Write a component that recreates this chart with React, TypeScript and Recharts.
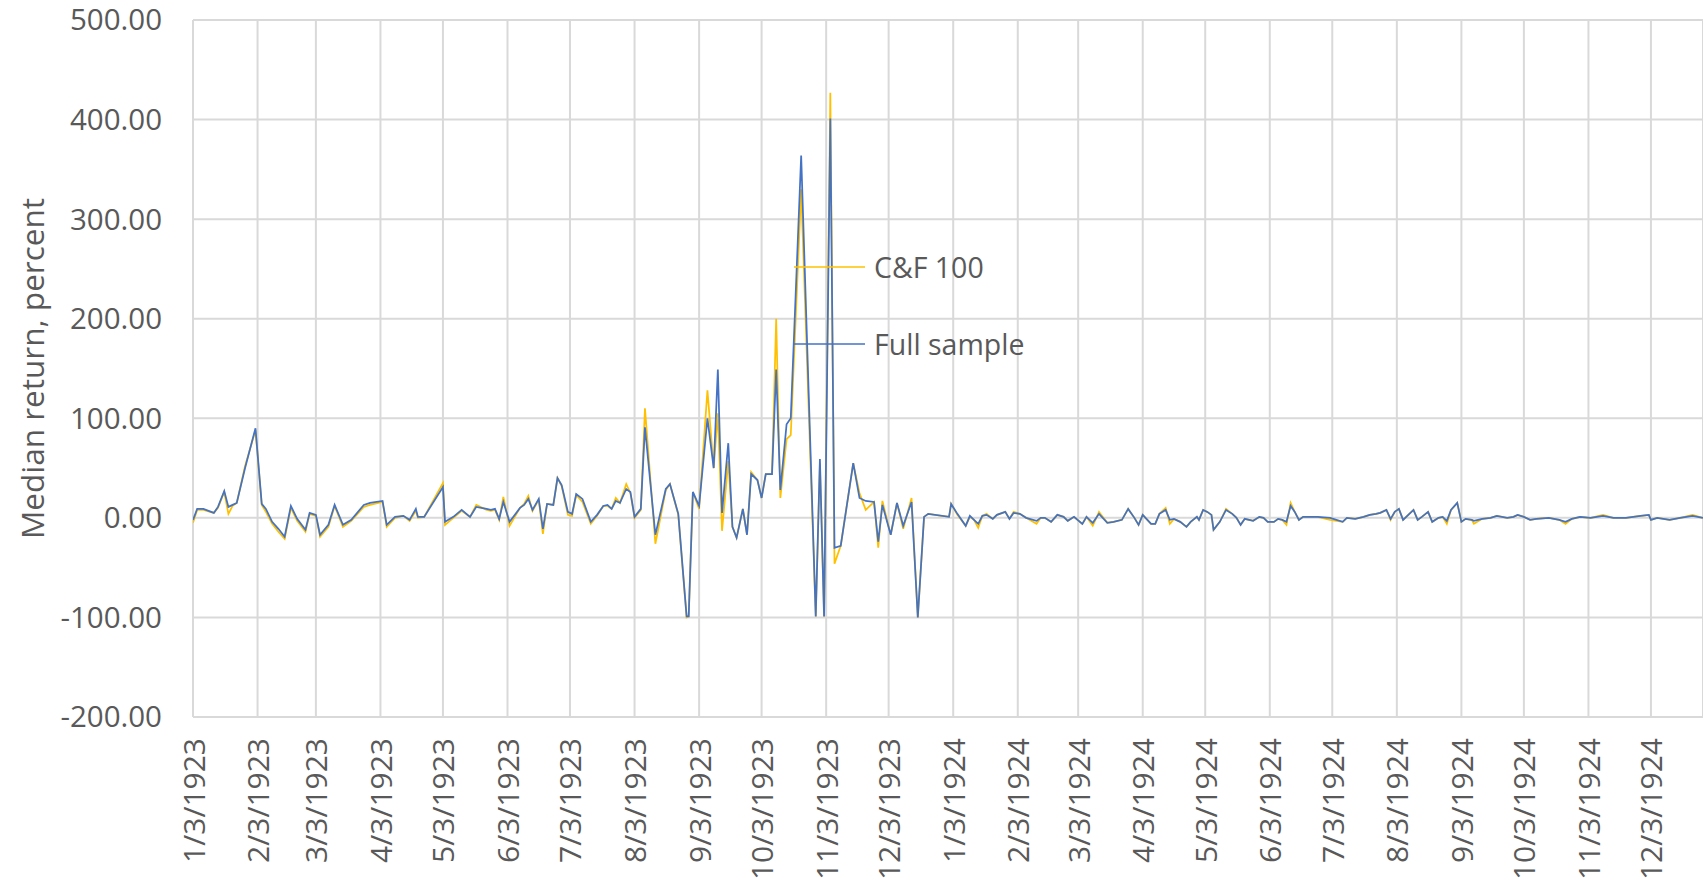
import { LineChart, Line, XAxis, YAxis, CartesianGrid, Legend } from 'recharts';

const dates = [
  '1/3/1923', '1/5/1923', '1/8/1923', '1/13/1923', '1/15/1923', '1/18/1923', '1/20/1923', '1/22/1923', '1/24/1923', '1/28/1923',
  '2/2/1923', '2/5/1923', '2/7/1923', '2/10/1923', '2/13/1923', '2/16/1923', '2/19/1923', '2/22/1923', '2/26/1923', '2/28/1923',
  '3/3/1923', '3/5/1923', '3/9/1923', '3/12/1923', '3/16/1923', '3/20/1923', '3/26/1923', '3/29/1923',
  '4/4/1923', '4/6/1923', '4/10/1923', '4/14/1923', '4/17/1923', '4/20/1923', '4/21/1923', '4/24/1923',
  '5/3/1923', '5/4/1923', '5/8/1923', '5/12/1923', '5/16/1923', '5/19/1923', '5/24/1923', '5/26/1923', '5/28/1923', '5/30/1923',
  '6/1/1923', '6/4/1923', '6/9/1923', '6/11/1923', '6/13/1923', '6/15/1923', '6/18/1923', '6/20/1923', '6/22/1923', '6/25/1923', '6/27/1923', '6/29/1923',
  '7/2/1923', '7/4/1923', '7/6/1923', '7/9/1923', '7/13/1923', '7/16/1923', '7/19/1923', '7/21/1923', '7/23/1923', '7/25/1923', '7/27/1923', '7/30/1923',
  '8/1/1923', '8/3/1923', '8/6/1923', '8/8/1923', '8/13/1923', '8/18/1923', '8/20/1923', '8/24/1923', '8/28/1923', '8/29/1923', '8/31/1923',
  '9/3/1923', '9/7/1923', '9/10/1923', '9/12/1923', '9/14/1923', '9/17/1923', '9/19/1923', '9/21/1923', '9/24/1923', '9/26/1923', '9/28/1923',
  '10/1/1923', '10/3/1923', '10/5/1923', '10/8/1923', '10/10/1923', '10/12/1923', '10/15/1923', '10/17/1923', '10/22/1923', '10/29/1923', '10/31/1923',
  '11/2/1923', '11/5/1923', '11/7/1923', '11/10/1923', '11/16/1923', '11/19/1923', '11/22/1923', '11/26/1923', '11/28/1923', '11/30/1923',
  '12/4/1923', '12/7/1923', '12/10/1923', '12/14/1923', '12/17/1923', '12/20/1923', '12/22/1923',
  '1/1/1924', '1/2/1924', '1/5/1924', '1/9/1924', '1/11/1924', '1/13/1924', '1/15/1924', '1/17/1924', '1/19/1924', '1/22/1924', '1/24/1924', '1/28/1924', '1/30/1924',
  '2/1/1924', '2/4/1924', '2/7/1924', '2/12/1924', '2/14/1924', '2/16/1924', '2/19/1924', '2/22/1924', '2/25/1924', '2/27/1924',
  '3/1/1924', '3/5/1924', '3/7/1924', '3/10/1924', '3/13/1924', '3/17/1924', '3/20/1924', '3/24/1924', '3/27/1924', '3/30/1924',
  '4/1/1924', '4/3/1924', '4/7/1924', '4/9/1924', '4/11/1924', '4/14/1924', '4/16/1924', '4/18/1924', '4/21/1924', '4/24/1924', '4/26/1924', '4/29/1924', '4/30/1924',
  '5/2/1924', '5/4/1924', '5/6/1924', '5/7/1924', '5/10/1924', '5/13/1924', '5/16/1924', '5/18/1924', '5/20/1924', '5/22/1924', '5/26/1924', '5/29/1924', '5/31/1924',
  '6/2/1924', '6/5/1924', '6/7/1924', '6/9/1924', '6/11/1924', '6/13/1924', '6/15/1924', '6/17/1924', '6/19/1924', '6/26/1924',
  '7/2/1924', '7/8/1924', '7/10/1924', '7/14/1924', '7/18/1924', '7/21/1924', '7/24/1924', '7/26/1924', '7/29/1924', '7/31/1924',
  '8/2/1924', '8/4/1924', '8/6/1924', '8/9/1924', '8/11/1924', '8/13/1924', '8/15/1924', '8/18/1924', '8/20/1924', '8/23/1924', '8/25/1924', '8/27/1924', '8/29/1924',
  '9/1/1924', '9/3/1924', '9/5/1924', '9/8/1924', '9/9/1924', '9/13/1924', '9/17/1924', '9/20/1924', '9/25/1924', '9/28/1924', '9/30/1924',
  '10/3/1924', '10/6/1924', '10/9/1924', '10/15/1924', '10/20/1924', '10/23/1924', '10/26/1924', '10/30/1924',
  '11/4/1924', '11/10/1924', '11/15/1924', '11/21/1924', '11/28/1924',
  '12/2/1924', '12/3/1924', '12/6/1924', '12/12/1924', '12/17/1924', '12/23/1924', '12/28/1924',
];

const cf100 = [
  -5, 8, 8, 5, 10, 26, 4, 12, 15, 52,
  88, 13, 6, -6, -14, -21, 10, -3, -14, 4,
  2, -19, -9, 12, -9, -3, 11, 13,
  16, -9, 0, 2, -3, 7, 0, 1,
  35, -7, 0, 7, 1, 13, 8, 7, 8, -2,
  21, -8, 10, 14, 22, 7, 18, -16, 14, 13, 40, 32,
  3, 2, 23, 16, -6, 2, 12, 12, 9, 20, 15, 34,
  25, 0, 8, 110, -26, 28, 34, 3, -100, -99, 26,
  9, 128, 50, 105, -13, 57, -9, -20, 9, -17, 46,
  38, 20, 44, 44, 200, 20, 79, 83, 330, -99, 55,
  -99, 427, -46, -28, 55, 25, 8, 16, -30, 17,
  -17, 15, -11, 20, -100, 1, 4,
  1, 14, 3, -8, 1, -2, -10, 2, 4, -1, 3, 6, -1,
  6, 4, 0, -6, 0, 0, -4, 3, 1, -3,
  1, -6, 1, -8, 6, -5, -4, -2, 9, 0,
  -7, 3, -6, -6, 4, 10, -6, -1, -4, -9, -4, 1, -2,
  8, 6, 3, -12, -4, 9, 4, 0, -7, -1, -3, 1, 0,
  -4, -4, -1, -2, -7, 15, 6, -2, 1, 1,
  -2, -4, 0, -1, 1, 3, 4, 5, 8, -2,
  6, 9, -2, 4, 8, -2, 1, 6, -4, 0, 1, -6, 8,
  15, -4, -1, -2, -6, -1, 0, 2, 0, 1, 3,
  1, -2, -1, 0, -2, -6, -1, 1,
  0, 3, 0, 0, 2,
  3, -2, 0, -2, 0, 3, 0,
];

const fullSample = [
  -2, 9, 9, 5, 11, 27, 11, 13, 15, 50,
  90, 14, 9, -4, -11, -19, 12, -1, -12, 5,
  3, -17, -7, 13, -7, -2, 13, 15,
  17, -7, 1, 2, -2, 9, 1, 1,
  31, -4, 1, 8, 1, 11, 9, 8, 9, -1,
  16, -4, 10, 13, 19, 8, 19, -11, 14, 13, 40, 33,
  6, 4, 24, 19, -4, 3, 12, 13, 9, 17, 15, 29,
  26, 1, 9, 91, -17, 29, 34, 4, -99, -99, 26,
  12, 100, 50, 149, 5, 75, -9, -20, 9, -17, 44,
  38, 20, 44, 44, 149, 28, 94, 100, 364, -99, 59,
  -99, 401, -30, -28, 55, 20, 17, 16, -24, 13,
  -17, 15, -8, 16, -100, 1, 4,
  1, 14, 4, -8, 2, -2, -6, 2, 3, -1, 3, 6, -1,
  5, 4, 0, -3, 0, 0, -4, 3, 1, -3,
  1, -6, 1, -5, 4, -5, -4, -2, 9, 0,
  -7, 3, -6, -6, 4, 8, -2, -1, -4, -9, -4, 1, -2,
  8, 6, 3, -12, -4, 8, 4, 0, -7, -1, -3, 1, 0,
  -4, -4, -1, -2, -4, 12, 6, -2, 1, 1,
  0, -4, 0, -1, 1, 3, 4, 5, 8, -1,
  6, 9, -2, 4, 8, -2, 1, 6, -4, 0, 1, -3, 8,
  15, -4, -1, -2, -3, -1, 0, 2, 0, 1, 3,
  1, -2, -1, 0, -2, -4, -1, 1,
  0, 2, 0, 0, 2,
  3, -2, 0, -2, 0, 2, 0,
];

const tickLabels = [
  '1/3/1923', '2/3/1923', '3/3/1923', '4/3/1923', '5/3/1923', '6/3/1923',
  '7/3/1923', '8/3/1923', '9/3/1923', '10/3/1923', '11/3/1923', '12/3/1923',
  '1/3/1924', '2/3/1924', '3/3/1924', '4/3/1924', '5/3/1924', '6/3/1924',
  '7/3/1924', '8/3/1924', '9/3/1924', '10/3/1924', '11/3/1924', '12/3/1924',
];

const yTicks = [-200, -100, 0, 100, 200, 300, 400, 500];

const FONT = '"Open Sans", "Noto Sans", sans-serif';
const TEXT = '#595959';
const GOLD = '#FFC000';
const BLUE = '#4472C4';

const base = Date.UTC(1923, 0, 3);
function dayOf(s: string) {
  const [m, d, y] = s.split('/').map(Number);
  return (Date.UTC(y, m - 1, d) - base) / 86400000;
}

const data = dates.map((d, i) => ({ day: dayOf(d), cf: cf100[i], full: fullSample[i] }));
const xTicks = tickLabels.map(dayOf);
const labelByDay: Record<number, string> = {};
tickLabels.forEach((t) => (labelByDay[dayOf(t)] = t));

const DateTick = (props: any) => {
  const { x, y, payload } = props;
  return (
    <text
      x={x}
      y={y}
      transform={`rotate(-90 ${x} ${y})`}
      textAnchor="end"
      dominantBaseline="central"
      fill={TEXT}
      fontSize={30}
      fontFamily={FONT}
    >
      {labelByDay[payload.value]}
    </text>
  );
};

const YTitle = (props: any) => {
  const vb = props.viewBox || { y: 20, height: 697 };
  const cy = vb.y + vb.height / 2;
  return (
    <text
      x={31}
      y={cy}
      transform={`rotate(-90 31 ${cy})`}
      textAnchor="middle"
      dominantBaseline="central"
      fill={TEXT}
      fontSize={31.5}
      fontFamily={FONT}
    >
      Median return, percent
    </text>
  );
};

const LegendBox = () => {
  const rows = [
    { name: 'C&F 100', color: GOLD },
    { name: 'Full sample', color: BLUE },
  ];
  return (
    <div style={{ fontFamily: FONT, fontSize: 28.5, color: TEXT }}>
      {rows.map((r, i) => (
        <div key={r.name} style={{ display: 'flex', alignItems: 'center', height: 40, marginBottom: i === 0 ? 37 : 0 }}>
          <svg width={71} height={40} style={{ display: 'block' }}>
            <line x1={0} y1={20} x2={71} y2={20} stroke={r.color} strokeWidth={1.5} />
          </svg>
          <span style={{ marginLeft: 9, lineHeight: '40px', whiteSpace: 'nowrap' }}>{r.name}</span>
        </div>
      ))}
    </div>
  );
};

export default function App() {
  return (
    <div style={{ position: 'absolute', left: 0, top: 0, background: '#fff' }}>
      <LineChart width={1703} height={883} data={data} margin={{ top: 20, right: 0, bottom: 0, left: 0 }}>
        <CartesianGrid stroke="#d9d9d9" strokeWidth={2} />
        <XAxis
          dataKey="day"
          type="number"
          domain={[0, 725]}
          ticks={xTicks}
          interval={0}
          allowDataOverflow
          axisLine={false}
          tickLine={false}
          tickSize={0}
          tickMargin={21}
          height={166}
          tick={<DateTick />}
        />
        <YAxis
          type="number"
          domain={[-200, 500]}
          ticks={yTicks}
          interval={0}
          axisLine={false}
          tickLine={false}
          tickSize={0}
          tickMargin={31}
          width={193}
          tickFormatter={(v: number) => v.toFixed(2)}
          tick={{ fill: TEXT, fontSize: 29.5, fontFamily: FONT }}
          label={{ content: (p: any) => <YTitle {...p} /> }}
        />
        <Legend
          layout="vertical"
          align="center"
          verticalAlign="middle"
          content={<LegendBox />}
          wrapperStyle={{ left: 794, top: 247, width: 'auto' }}
        />
        <Line type="linear" dataKey="cf" name="C&F 100" stroke={GOLD} strokeWidth={1.75} dot={false} isAnimationActive={false} />
        <Line type="linear" dataKey="full" name="Full sample" stroke={BLUE} strokeWidth={1.75} dot={false} isAnimationActive={false} />
      </LineChart>
    </div>
  );
}
